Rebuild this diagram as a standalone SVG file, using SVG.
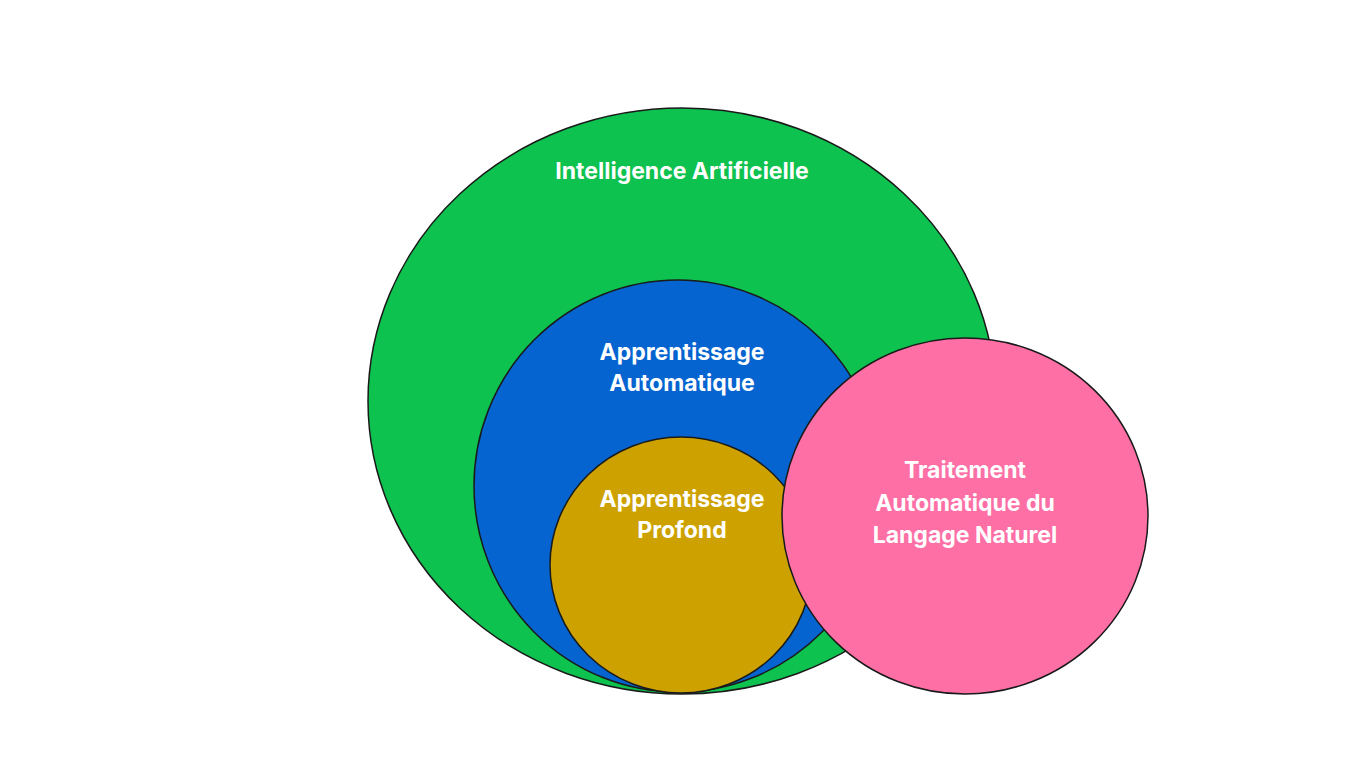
<svg xmlns="http://www.w3.org/2000/svg" width="1365" height="768" viewBox="0 0 1365 768">
<style>
.c{stroke:#1a1a1a;stroke-width:1.5}
.t{font-family:Inter,"Open Sans",sans-serif;font-weight:700;font-size:23px;fill:#fff;text-anchor:middle}
</style>
<rect width="1365" height="768" fill="#fff"/>
<g id="ia"><ellipse class="c" cx="682" cy="401" rx="314" ry="293" fill="#0dc24e"/><text class="t" x="682" y="179">Intelligence Artificielle</text></g>
<g id="aa"><ellipse class="c" cx="678" cy="486" rx="204" ry="206" fill="#0564d0"/><text class="t" x="682" y="360">Apprentissage</text><text class="t" x="682" y="391">Automatique</text></g>
<g id="ap"><ellipse class="c" cx="681" cy="565" rx="131" ry="128" fill="#cda200"/><text class="t" x="682" y="507">Apprentissage</text><text class="t" x="682" y="538">Profond</text></g>
<g id="tal"><ellipse class="c" cx="965" cy="516" rx="183" ry="178" fill="#fe6fa6"/><text class="t" x="965" y="478">Traitement</text><text class="t" x="965" y="511">Automatique du</text><text class="t" x="965" y="543">Langage Naturel</text></g>
<g id="connectors"/>
</svg>
